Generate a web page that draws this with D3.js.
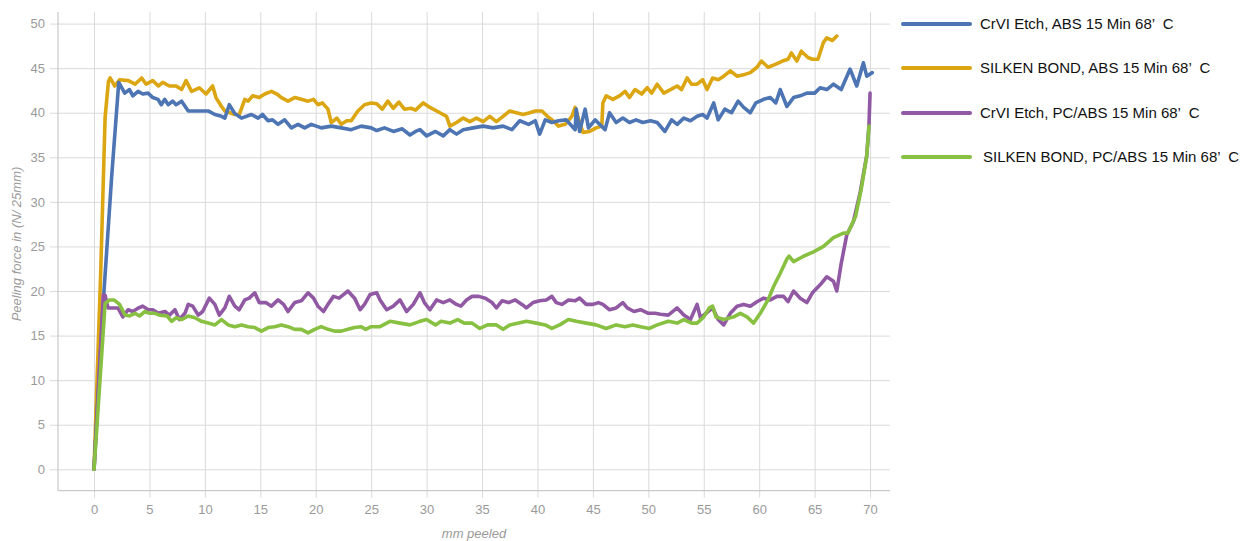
<!DOCTYPE html>
<html><head><meta charset="utf-8">
<script src="https://cdn.jsdelivr.net/npm/d3@7"></script>
<style>
html,body{margin:0;padding:0;background:#fff;}
svg{display:block;}
</style></head>
<body>
<svg id="chart" width="1258" height="541"></svg>
<script>
const xTicks = [0,5,10,15,20,25,30,35,40,45,50,55,60,65,70];
const yTicks = [0,5,10,15,20,25,30,35,40,45,50];
const seriesNames = [
  "CrVI Etch, ABS 15 Min 68’  C",
  "SILKEN BOND, ABS 15 Min 68’  C",
  "CrVI Etch, PC/ABS 15 Min 68’  C",
  "SILKEN BOND, PC/ABS 15 Min 68’  C"
];
const seriesColors = ["#4d74b3","#dba612","#9159a3","#88c041"];

const crviAbs = [[0,0],[0.9,20],[1.6,33],[2.23,43.4],[2.77,42.2],[3.2,42.6],[3.5,41.9],[3.97,42.4],[4.4,42.1],[4.87,42.2],[5.3,41.7],[5.77,41.5],[6.07,40.9],[6.37,41.5],[6.7,40.9],[7.1,41.3],[7.4,40.9],[7.9,41.3],[8.5,40.2],[9.4,40.2],[10.3,40.2],[10.9,39.8],[11.5,39.6],[11.8,39.4],[12.2,40.9],[12.7,39.9],[13.3,39.4],[14.2,39.8],[14.8,39.4],[15.2,39.8],[15.7,39.1],[16.1,39.2],[16.6,38.7],[17.2,39.2],[17.8,38.3],[18.4,38.7],[19.0,38.3],[19.6,38.7],[20.5,38.3],[21.4,38.5],[22.3,38.3],[23.2,38.1],[24.1,38.5],[25.0,38.3],[25.5,38.0],[26.2,38.3],[27.0,37.9],[27.8,38.2],[28.5,37.5],[29.0,37.9],[29.4,38.1],[30.0,37.4],[30.8,37.9],[31.5,37.4],[32.1,38.1],[32.7,37.6],[33.3,38.1],[34.2,38.3],[35.1,38.5],[36.0,38.3],[36.9,38.5],[37.7,38.1],[38.4,39.1],[39.2,38.7],[39.8,39.1],[40.2,37.6],[40.7,39.2],[41.3,38.9],[41.9,39.1],[42.6,39.2],[43.4,38.1],[43.5,40.4],[43.8,37.9],[44.3,40.4],[44.6,38.3],[45.2,39.2],[45.6,38.7],[46.1,38.1],[46.5,40.0],[47.1,38.9],[47.7,39.4],[48.3,38.9],[48.9,39.2],[49.5,38.9],[50.2,39.1],[50.8,38.9],[51.5,37.9],[52.1,39.2],[52.6,38.7],[53.2,39.4],[53.8,39.1],[54.4,39.6],[54.9,39.8],[55.3,39.4],[55.9,41.1],[56.3,39.2],[56.9,40.4],[57.5,40.0],[58.1,41.3],[58.6,40.6],[59.2,40.0],[59.7,41.1],[60.4,41.5],[61.0,41.7],[61.5,41.1],[61.9,42.6],[62.5,40.7],[63.1,41.7],[63.7,41.9],[64.3,42.2],[65.0,42.2],[65.5,42.8],[66.1,42.6],[66.7,43.2],[67.4,42.6],[68.2,44.9],[68.8,43.0],[69.4,45.6],[69.7,44.1],[70.2,44.5]];

const silkenAbs = [[0,0],[0.6,22],[1.0,39.5],[1.3,43.5],[1.45,43.9],[1.87,43.0],[2.3,43.7],[3.1,43.6],[3.7,43.2],[4.3,43.9],[4.7,43.2],[5.3,43.6],[5.8,43.0],[6.2,43.4],[6.8,43.0],[7.4,43.0],[7.9,42.6],[8.3,43.6],[8.8,42.4],[9.5,42.8],[10.1,42.1],[10.7,43.0],[11.0,41.7],[11.5,40.7],[11.8,40.2],[12.7,39.8],[13.1,39.8],[13.6,41.5],[13.9,41.3],[14.3,41.9],[14.9,41.7],[15.4,42.1],[16.0,42.4],[16.5,42.1],[16.9,41.7],[17.5,41.3],[18.1,41.7],[18.7,41.5],[19.3,41.3],[19.8,41.5],[20.2,40.9],[20.6,41.1],[21.1,40.4],[21.4,38.9],[21.9,39.4],[22.3,38.7],[22.8,39.1],[23.2,39.1],[23.8,40.2],[24.4,40.9],[25.0,41.1],[25.5,41.0],[26.0,40.4],[26.5,41.3],[27.0,40.5],[27.5,41.2],[28.0,40.4],[28.6,40.5],[29.0,40.3],[29.7,41.1],[30.3,40.6],[31.2,40.0],[31.8,39.6],[32.1,38.5],[32.7,38.9],[33.3,39.4],[33.9,39.0],[34.5,39.4],[35.1,39.0],[35.7,39.6],[36.3,39.0],[36.9,39.6],[37.5,40.2],[38.1,40.0],[38.7,39.8],[39.3,40.0],[39.8,40.2],[40.4,40.2],[40.9,39.6],[41.4,39.1],[41.9,38.5],[42.5,38.7],[43.1,39.6],[43.4,40.6],[43.8,38.9],[44.1,37.8],[44.7,37.9],[45.3,38.3],[45.8,38.5],[45.9,41.1],[46.2,41.9],[46.8,41.5],[47.4,41.9],[47.9,42.4],[48.3,41.7],[48.8,42.6],[49.4,42.1],[49.9,42.8],[50.3,42.2],[50.8,43.2],[51.4,42.2],[52.0,42.6],[52.6,43.0],[53.0,42.6],[53.5,43.9],[53.9,43.2],[54.4,43.2],[54.9,43.7],[55.3,42.6],[55.8,43.9],[56.3,43.7],[56.8,44.1],[57.4,44.7],[58.0,44.1],[58.7,44.3],[59.2,44.5],[59.8,45.1],[60.2,45.8],[60.8,45.1],[61.4,45.4],[62.1,45.8],[62.6,46.0],[62.9,46.7],[63.4,45.8],[63.8,46.9],[64.4,46.2],[64.8,46.0],[65.3,46.0],[65.8,47.9],[66.1,48.4],[66.6,48.1],[67.0,48.6]];

const crviPcAbs = [[0,0],[0.84,19.6],[1.0,19.5],[1.26,18.1],[2.16,18.1],[2.6,17.1],[3.07,17.9],[3.5,17.7],[4.0,18.1],[4.4,18.3],[4.9,17.9],[5.3,17.9],[5.8,17.5],[6.4,17.7],[6.8,17.3],[7.3,17.9],[7.7,16.8],[8.2,17.5],[8.5,18.5],[8.9,18.3],[9.4,17.3],[9.8,17.7],[10.4,19.2],[10.9,18.5],[11.3,17.3],[11.8,18.1],[12.2,19.4],[12.7,18.3],[13.1,17.9],[13.6,19.0],[14.0,19.2],[14.5,19.8],[14.9,18.7],[15.5,18.7],[16.0,18.3],[16.6,19.0],[17.1,18.5],[17.5,17.7],[18.1,18.7],[18.7,18.9],[19.3,19.8],[19.8,19.2],[20.2,18.3],[20.7,17.7],[21.1,18.5],[21.6,19.4],[22.1,19.2],[22.5,19.6],[22.9,20.0],[23.5,19.2],[24.0,17.9],[24.4,18.5],[24.9,19.6],[25.5,19.8],[25.8,19.0],[26.4,17.9],[27.0,18.3],[27.6,19.0],[28.2,17.7],[28.8,18.5],[29.4,19.8],[29.8,18.7],[30.3,17.9],[30.9,19.0],[31.5,18.7],[32.1,19.0],[32.7,18.5],[33.1,18.3],[33.6,19.0],[34.1,19.4],[34.7,19.4],[35.3,19.2],[35.9,18.7],[36.3,18.1],[36.8,18.9],[37.4,18.7],[38.0,19.0],[38.6,18.5],[39.0,18.1],[39.6,18.7],[40.2,18.9],[40.8,19.0],[41.3,19.4],[41.7,18.7],[42.2,18.5],[42.8,19.0],[43.4,18.9],[43.8,19.2],[44.4,18.5],[45.0,18.5],[45.5,18.7],[45.9,18.5],[46.5,17.9],[47.1,18.1],[47.7,18.7],[48.1,18.1],[48.7,17.7],[49.3,17.9],[50.0,17.5],[50.6,17.5],[51.1,17.4],[51.8,17.3],[52.6,18.1],[53.2,17.3],[53.8,16.8],[54.4,18.5],[54.7,17.0],[55.2,17.5],[55.8,18.1],[56.3,16.8],[56.8,16.2],[57.4,17.5],[58.0,18.3],[58.6,18.5],[59.2,18.3],[59.8,18.8],[60.4,19.2],[61.0,19.0],[61.6,19.4],[62.2,19.4],[62.6,18.8],[63.1,20.0],[63.7,19.2],[64.3,18.7],[64.8,19.8],[65.5,20.7],[66.1,21.6],[66.7,21.1],[67.0,20.0],[67.4,23.1],[67.9,26.3],[68.5,27.8],[69.1,31.0],[69.7,35.2],[69.9,38.5],[70.0,42.2]];

const silkenPcAbs = [[0,0],[1.0,18.6],[1.4,19.0],[1.8,19.0],[2.3,18.5],[2.8,17.3],[3.2,17.2],[3.7,17.5],[4.1,17.2],[4.6,17.7],[5.0,17.5],[5.5,17.5],[5.9,17.3],[6.6,17.2],[7.0,16.6],[7.4,17.0],[7.9,16.8],[8.5,17.2],[9.1,17.0],[9.7,16.6],[10.3,16.4],[10.9,16.2],[11.5,16.8],[12.1,16.2],[12.7,16.0],[13.3,16.2],[13.9,16.0],[14.5,15.9],[15.1,15.5],[15.7,15.9],[16.3,16.0],[16.9,16.2],[17.5,16.0],[18.1,15.7],[18.7,15.7],[19.3,15.3],[19.9,15.7],[20.5,16.0],[21.1,15.7],[21.7,15.5],[22.3,15.5],[22.9,15.7],[23.5,15.9],[24.1,16.0],[24.5,15.7],[25.0,16.0],[25.8,16.0],[26.7,16.6],[27.6,16.4],[28.5,16.2],[29.4,16.6],[30.0,16.8],[30.8,16.2],[31.3,16.6],[32.1,16.4],[32.8,16.8],[33.4,16.4],[34.1,16.4],[34.8,15.8],[35.5,16.2],[36.3,16.2],[36.9,15.7],[37.5,16.2],[38.3,16.4],[39.0,16.6],[39.9,16.4],[40.7,16.2],[41.3,15.8],[42.0,16.2],[42.8,16.8],[43.5,16.6],[44.4,16.4],[45.3,16.2],[46.2,15.8],[47.1,16.2],[47.9,16.0],[48.6,16.2],[49.3,16.0],[50.1,15.8],[50.8,16.2],[51.8,16.6],[52.6,16.4],[53.2,16.8],[53.9,16.4],[54.4,16.4],[55.0,17.1],[55.5,18.1],[55.8,18.3],[56.1,17.1],[56.8,16.8],[57.7,17.1],[58.3,17.5],[58.9,17.1],[59.5,16.4],[60.1,17.5],[60.8,19.0],[61.3,20.5],[61.9,22.0],[62.5,23.6],[62.7,23.9],[63.1,23.3],[64.0,23.9],[64.9,24.4],[65.8,25.0],[66.7,26.0],[67.6,26.5],[68.0,26.5],[68.7,28.4],[69.2,31.4],[69.7,35.1],[69.9,38.5]];

const seriesData = [crviAbs, silkenAbs, crviPcAbs, silkenPcAbs];
const drawOrder = [1, 0, 2, 3];

const svg = d3.select("#chart");
const mLeft = 58, mRight = 890, mTop = 12, mBottom = 490.7;
const x = d3.scaleLinear().domain([-3.25, 71.8]).range([mLeft, mRight]);
const y = d3.scaleLinear().domain([-2.4, 51.3]).range([mBottom, mTop]);

const gridColor = "#dadada";
const labelColor = "#9a9a9a";
const font = "'Liberation Sans', Arial, sans-serif";

// Y axis with gridlines
const yAxis = svg.append("g").attr("transform", `translate(${mLeft},0)`)
  .call(d3.axisLeft(y).tickValues(yTicks).tickSize(-(mRight-mLeft)).tickPadding(13).tickSizeOuter(0));
yAxis.select(".domain").remove();
yAxis.selectAll(".tick line").attr("x1", -8).attr("stroke", gridColor).attr("stroke-width", 1);
yAxis.selectAll(".tick text").attr("fill", labelColor).style("font-family", font).style("font-size", "13px");

// X axis with gridlines
const xAxis = svg.append("g").attr("transform", `translate(0,${mBottom})`)
  .call(d3.axisBottom(x).tickValues(xTicks).tickSize(-(mBottom-mTop)).tickPadding(14).tickSizeOuter(0));
xAxis.select(".domain").remove();
xAxis.selectAll(".tick line").attr("y1", 7).attr("stroke", gridColor).attr("stroke-width", 1);
xAxis.selectAll(".tick text").attr("fill", labelColor).style("font-family", font).style("font-size", "13px");

// spines
svg.append("line").attr("x1", mLeft).attr("x2", mLeft).attr("y1", mTop).attr("y2", mBottom)
  .attr("stroke", "#c9c9c9").attr("stroke-width", 1.2);
svg.append("line").attr("x1", mLeft).attr("x2", mRight).attr("y1", mBottom).attr("y2", mBottom)
  .attr("stroke", "#c9c9c9").attr("stroke-width", 1.2);

// axis titles
svg.append("text").attr("transform", `translate(21,244) rotate(-90)`)
  .attr("text-anchor", "middle").attr("fill", labelColor)
  .style("font-family", font).style("font-size", "13px").style("font-style", "italic")
  .text("Peeling force in (N/ 25mm)");
svg.append("text").attr("x", (mLeft+mRight)/2).attr("y", 538)
  .attr("text-anchor", "middle").attr("fill", labelColor)
  .style("font-family", font).style("font-size", "13px").style("font-style", "italic")
  .text("mm peeled");

// lines
const line = d3.line().x(d => x(d[0])).y(d => y(d[1])).curve(d3.curveLinear);
drawOrder.forEach(i => {
  svg.append("path").datum(seriesData[i])
    .attr("fill", "none").attr("stroke", seriesColors[i])
    .attr("stroke-width", 3.6).attr("stroke-linejoin", "round").attr("stroke-linecap", "round")
    .attr("d", line);
});

// legend
const legendY = [24, 68, 113, 157];
const legendTextX = [980, 980, 980, 983];
const lg = svg.append("g");
seriesNames.forEach((name, i) => {
  lg.append("line").attr("x1", 903).attr("x2", 970).attr("y1", legendY[i]).attr("y2", legendY[i])
    .attr("stroke", seriesColors[i]).attr("stroke-width", 4).attr("stroke-linecap", "round");
  lg.append("text").attr("x", legendTextX[i]).attr("y", legendY[i]).attr("dy", "0.35em")
    .attr("fill", "#111").style("font-family", font).style("font-size", "15px")
    .style("white-space", "pre")
    .text(name);
});
</script>
</body></html>
